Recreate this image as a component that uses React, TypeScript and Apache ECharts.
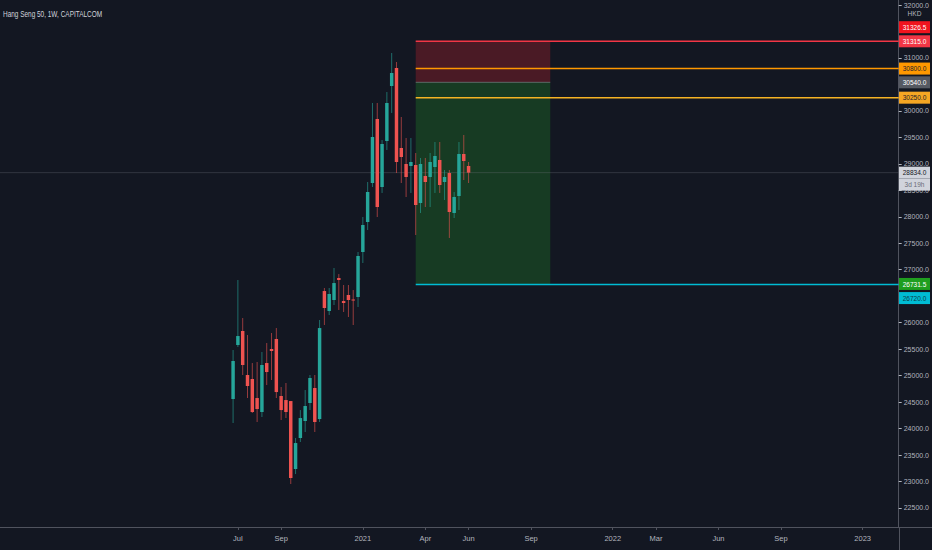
import React, { useEffect, useRef } from "react";
import * as echarts from "echarts";

const TITLE = "Hang Seng 50, 1W, CAPITALCOM";
const CURRENCY = "HKD";
const COUNTDOWN = "3d 19h";

// weekly axis
const axisStartWeek = "2019-07-29";
const weekCount = 187;
const firstCandleWeek = "2020-06-29";

// candles (weekly)
const opens = [
  24558, 25578, 25843, 25012, 24936, 24577, 24313, 25238, 25503, 25692,
  24615, 24539, 24520, 23236, 23822, 24143, 24483, 24766, 24180, 26598,
  26221, 26428, 26844, 26409, 26523, 26438, 26485, 27335, 27902, 28638,
  29847, 28563, 29432, 30471, 30811, 29300, 28997, 28960, 28979, 28261,
  28771, 28752, 28941, 29073, 28657, 28827, 28072, 28393, 29186, 28960,
];
const closes = [
  25276, 25748, 25201, 24804, 24313, 24369, 25201, 25068, 25465, 24690,
  24350, 24313, 23066, 23727, 24199, 24426, 24955, 24124, 25899, 26277,
  26542, 26749, 26806, 26372, 26428, 26419, 27260, 27845, 28468, 29507,
  28185, 29375, 30150, 30716, 29035, 29130, 28752, 29035, 28223, 28997,
  28657, 29035, 29149, 28601, 28752, 28091, 28374, 29186, 29054, 28834,
];
const lows = [
  24105, 25541, 25012, 24577, 24294, 24124, 24218, 24823, 24917, 24577,
  24162, 24199, 22953, 23141, 23746, 23935, 24350, 23935, 24124, 25956,
  26145, 26334, 26240, 26202, 26107, 25956, 26296, 27127, 27751, 28563,
  27996, 28450, 29262, 29961, 28827, 28638, 28374, 28450, 27656, 28072,
  28185, 28185, 28450, 28450, 28317, 27600, 27977, 28128, 28695, 28638,
];
const highs = [
  25484, 26806, 26088, 25767, 25238, 25257, 25446, 25616, 25805, 25899,
  24785, 24861, 24520, 23822, 24350, 24728, 25012, 25012, 26051, 26655,
  26655, 27033, 26919, 26712, 26712, 26617, 27335, 27996, 28657, 30150,
  30150, 29451, 30357, 31094, 30924, 29885, 29488, 29488, 29205, 29111,
  29111, 29205, 29413, 29413, 28884, 28884, 28468, 29413, 29545, 29035,
];

// x-axis labels
const tickDates = [
  "2020-07-06", "2020-09-07", "2021-01-04", "2021-04-05", "2021-06-07", "2021-09-06",
  "2022-01-03", "2022-03-07", "2022-06-06", "2022-09-05", "2023-01-02",
];
const tickLabels = ["Jul", "Sep", "2021", "Apr", "Jun", "Sep", "2022", "Mar", "Jun", "Sep", "2023"];

// y-axis labels that are visible (others sit under the price tags)
const priceTicks = [
  22500, 23000, 23500, 24000, 24500, 25000, 25500, 26000, 27000, 27500,
  28000, 28500, 29000, 29500, 30000, 31000, 32000,
];
const priceMin = 22141;
const priceMax = 32095;

// short position tool
const boxStartWeek = "2021-03-22";
const boxEndWeek = "2021-10-04";
const entryPrice = 30540;
const stopPrice = 31315;
const targetPrice = 26731.5;

// horizontal levels
const levelValues = [31315, 30800, 30250, 26720];
const lastPrice = 28834;

// price tags on the right scale
const tagValues = [31326.5, 31315, 30800, 30540, 30250, 28834, 26731.5, 26720];

// ---- styles ----
const BG = "#131722";
const FONT = "'Liberation Sans', Arial, sans-serif";
const UP = "#26a69a";
const DOWN = "#ef5350";
const UP_WICK = "rgba(38,166,154,0.6)";
const DOWN_WICK = "rgba(239,83,80,0.6)";
const levelColors = ["#f23645", "#ff9800", "#f5b324", "#00bcd4"];
const tagBg = ["#f0141e", "#f23645", "#ff9800", "#555962", "#f5a623", "#d1d4dc", "#1f9e1f", "#00bcd4"];
const tagFg = ["#ffffff", "#ffffff", "#1e222d", "#ffffff", "#1e222d", "#131722", "#ffffff", "#0d3c4a"];
const tagShift = [-13.5, 0, 0, 0, 0, 0, 0, 13.5];

const DAY = 86400000;
const toUTC = (s: string) => {
  const [y, m, d] = s.split("-").map(Number);
  return Date.UTC(y, m - 1, d);
};
const iso = (t: number) => new Date(t).toISOString().slice(0, 10);
const weeks = Array.from({ length: weekCount }, (_, i) => iso(toUTC(axisStartWeek) + i * 7 * DAY));
const idxOf = (s: string) => weeks.indexOf(s);

export default function App() {
  const ref = useRef<HTMLDivElement>(null);

  useEffect(() => {
    document.body.style.margin = "0";
    document.body.style.background = BG;
    if (!ref.current) return;
    const chart = echarts.init(ref.current, undefined, { renderer: "svg" });

    const firstIdx = idxOf(firstCandleWeek);
    const candleData = opens.map((o, i) => [firstIdx + i, o, closes[i], lows[i], highs[i]]);
    const boxStart = idxOf(boxStartWeek);
    const boxEnd = idxOf(boxEndWeek);
    const boxData = [
      [boxStart, boxEnd, stopPrice, entryPrice, 0],
      [boxStart, boxEnd, entryPrice, targetPrice, 1],
    ];
    const boxFill = ["#4a1a25", "#173b23"];
    const levelData = levelValues.map((v, i) => [boxStart, v, i]);

    const option: any = {
      animation: false,
      backgroundColor: BG,
      grid: { left: 0, right: 33, top: 0, bottom: 23, containLabel: false },
      xAxis: {
        type: "category",
        data: weeks,
        boundaryGap: true,
        axisLine: { show: true, lineStyle: { color: "#50535e", width: 1 } },
        axisTick: {
          show: true,
          alignWithLabel: true,
          length: 3,
          interval: (_i: number, v: string) => tickDates.includes(v),
          lineStyle: { color: "#50535e" },
        },
        axisLabel: {
          interval: (_i: number, v: string) => tickDates.includes(v),
          formatter: (v: string) => {
            const k = tickDates.indexOf(v);
            return k >= 0 ? tickLabels[k] : "";
          },
          color: "#b2b5be",
          fontSize: 7.5,
          fontFamily: FONT,
          margin: 7,
        },
        splitLine: { show: false },
      },
      yAxis: {
        type: "value",
        position: "right",
        min: priceMin,
        max: priceMax,
        splitLine: { show: false },
        axisLine: { show: true, lineStyle: { color: "#50535e" } },
        axisTick: { show: true, length: 3, customValues: priceTicks, lineStyle: { color: "#b2b5be" } },
        axisLabel: {
          customValues: priceTicks,
          formatter: (v: number) => v.toFixed(1),
          color: "#b2b5be",
          fontSize: 7,
          fontFamily: FONT,
          margin: 5,
        },
      },
      series: [
        {
          type: "custom",
          name: "box",
          data: boxData,
          encode: { x: [0, 1], y: [2, 3] },
          z: 1,
          renderItem: (params: any, api: any) => {
            const p1 = api.coord([api.value(0), api.value(2)]);
            const p2 = api.coord([api.value(1), api.value(3)]);
            const k = api.value(4);
            const children: any[] = [
              {
                type: "rect",
                shape: { x: p1[0], y: p1[1], width: p2[0] - p1[0], height: p2[1] - p1[1] },
                style: { fill: boxFill[k] },
              },
            ];
            if (k === 1) {
              children.push({
                type: "line",
                shape: { x1: p1[0], y1: p1[1], x2: p2[0], y2: p1[1] },
                style: { stroke: "rgba(150,153,160,0.55)", lineWidth: 1 },
              });
            }
            return { type: "group", children };
          },
        },
        {
          type: "custom",
          name: "lastPrice",
          data: [[0, lastPrice]],
          encode: { x: 0, y: 1 },
          z: 2,
          renderItem: (params: any, api: any) => {
            const p = api.coord([0, api.value(1)]);
            const cs = params.coordSys;
            return {
              type: "line",
              shape: { x1: cs.x, y1: p[1], x2: cs.x + cs.width, y2: p[1] },
              style: { stroke: "rgba(120,123,134,0.3)", lineWidth: 1 },
            };
          },
        },
        {
          type: "custom",
          name: "candles",
          data: candleData,
          encode: { x: 0, y: [1, 2, 3, 4] },
          z: 3,
          renderItem: (params: any, api: any) => {
            const xi = api.value(0);
            const o = api.value(1);
            const c = api.value(2);
            const l = api.value(3);
            const h = api.value(4);
            const pO = api.coord([xi, o]);
            const pC = api.coord([xi, c]);
            const pL = api.coord([xi, l]);
            const pH = api.coord([xi, h]);
            const bw = api.size([1, 0])[0] * 0.72;
            const up = c >= o;
            const top = Math.min(pO[1], pC[1]);
            const hgt = Math.max(1, Math.abs(pO[1] - pC[1]));
            return {
              type: "group",
              children: [
                {
                  type: "line",
                  shape: { x1: pH[0], y1: pH[1], x2: pL[0], y2: pL[1] },
                  style: { stroke: up ? UP_WICK : DOWN_WICK, lineWidth: 1 },
                },
                {
                  type: "rect",
                  shape: { x: pO[0] - bw / 2, y: top, width: bw, height: hgt },
                  style: { fill: up ? UP : DOWN },
                },
              ],
            };
          },
        },
        {
          type: "custom",
          name: "levels",
          data: levelData,
          encode: { x: 0, y: 1 },
          z: 4,
          renderItem: (params: any, api: any) => {
            const p = api.coord([api.value(0), api.value(1)]);
            const cs = params.coordSys;
            return {
              type: "line",
              shape: { x1: p[0], y1: p[1], x2: cs.x + cs.width, y2: p[1] },
              style: { stroke: levelColors[api.value(2)], lineWidth: 1.5 },
            };
          },
        },
      ],
    };
    chart.setOption(option);

    const gridRight = 932 - 33;
    const Z = 100;
    const tagText = (text: string, y: number, fill: string) => ({
      type: "text",
      z: Z + 1,
      x: gridRight + 15.5,
      y,
      scaleX: 0.82,
      style: {
        text,
        x: 0,
        y: 0,
        align: "center",
        verticalAlign: "middle",
        fill,
        fontSize: 8,
        fontFamily: FONT,
      },
    });
    const els: any[] = [];
    tagValues.forEach((v, i) => {
      const y = (chart.convertToPixel({ yAxisIndex: 0 }, v) as number) + tagShift[i];
      els.push({ type: "rect", z: Z, shape: { x: gridRight, y: y - 6, width: 31, height: 12 }, style: { fill: tagBg[i] } });
      els.push(tagText(v.toFixed(1), y, tagFg[i]));
    });
    const yLast = chart.convertToPixel({ yAxisIndex: 0 }, lastPrice) as number;
    els.push({ type: "rect", z: Z, shape: { x: gridRight, y: yLast + 6, width: 31, height: 12 }, style: { fill: "#d1d4dc" } });
    els.push(tagText(COUNTDOWN, yLast + 12, "#6a6d78"));
    els.push({ type: "rect", z: Z, shape: { x: gridRight + 2, y: 8.5, width: 29, height: 10 }, style: { fill: BG } });
    els.push(tagText(CURRENCY, 13.5, "#b2b5be"));
    els.push({
      type: "line",
      z: Z,
      shape: { x1: gridRight, y1: 527.5, x2: 932, y2: 527.5 },
      style: { stroke: "#50535e", lineWidth: 1 },
    });
    els.push({
      type: "line",
      z: Z,
      shape: { x1: gridRight + 0.5, y1: 527, x2: gridRight + 0.5, y2: 550 },
      style: { stroke: "#50535e", lineWidth: 1 },
    });
    els.push({
      type: "text",
      z: Z,
      x: 3,
      y: 14,
      scaleX: 0.76,
      style: {
        text: TITLE,
        x: 0,
        y: 0,
        verticalAlign: "middle",
        fill: "#d1d4dc",
        fontSize: 8.5,
        fontFamily: FONT,
      },
    });
    chart.setOption({ graphic: els });

    return () => chart.dispose();
  }, []);

  return <div ref={ref} style={{ width: 932, height: 550, background: BG }} />;
}
